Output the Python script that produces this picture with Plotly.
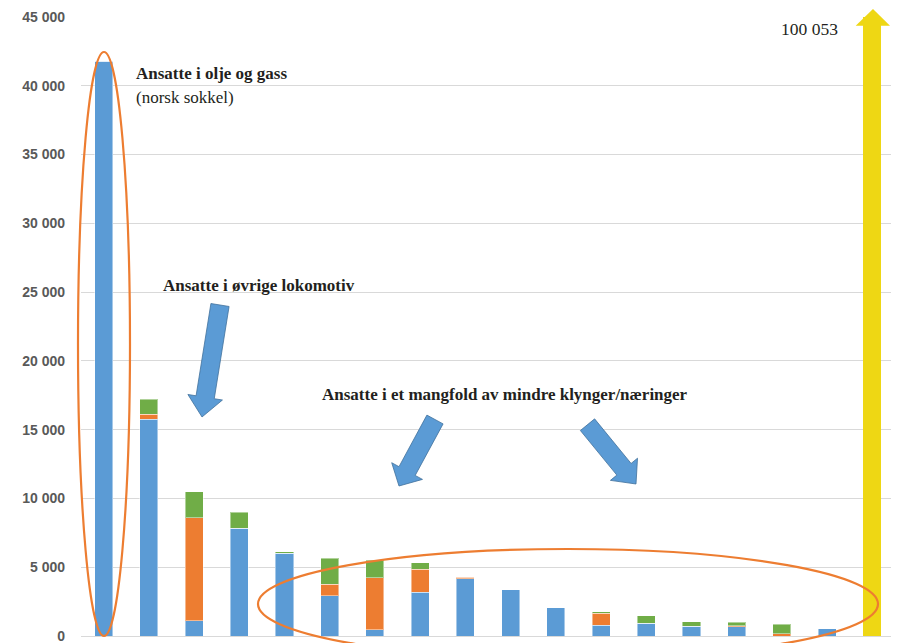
import plotly.graph_objects as go

# ---- data ----
categories = [str(i) for i in range(1, 19)]
blue   = [41800, 15750, 1100, 7850, 6030, 2930, 440, 3180, 4170, 3370, 2040, 775, 920, 700, 680, 0, 510, None]
orange = [0, 370, 7500, 0, 0, 850, 3800, 1670, 90, 0, 0, 875, 0, 0, 70, 150, 0, None]
green  = [0, 1100, 1870, 1150, 80, 1890, 1260, 480, 0, 0, 0, 120, 535, 320, 250, 720, 0, None]
total_value = [None] * 17 + [100053]
total_label = "100 053"
tick_vals = [0, 5000, 10000, 15000, 20000, 25000, 30000, 35000, 40000, 45000]
tick_text = ["0", "5 000", "10 000", "15 000", "20 000", "25 000", "30 000", "35 000", "40 000", "45 000"]

OFF = 8  # default page body margin
W, H = 899 - OFF, 643 - OFF
L, R, T, B = 81, 895, 17, 636  # plot area in page pixels


def px(x, y):
    return (x - L) / (R - L), (B - y) / (B - T)


def arrow_path(tail, tip, w, hw, hl):
    import math
    dx, dy = tip[0] - tail[0], tip[1] - tail[1]
    ln = math.hypot(dx, dy)
    ux, uy = dx / ln, dy / ln
    nx, ny = -uy, ux
    bx, by = tip[0] - ux * hl, tip[1] - uy * hl
    pts = [
        (tail[0] + nx * w, tail[1] + ny * w),
        (bx + nx * w, by + ny * w),
        (bx + nx * hw, by + ny * hw),
        tip,
        (bx - nx * hw, by - ny * hw),
        (bx - nx * w, by - ny * w),
        (tail[0] - nx * w, tail[1] - ny * w),
    ]
    pp = [px(*p) for p in pts]
    return "M " + " L ".join(f"{a:.5f},{b:.5f}" for a, b in pp) + " Z"


edge = dict(color="rgba(255,255,255,0.45)", width=1)
fig = go.Figure()
fig.add_bar(x=categories, y=blue, marker=dict(color="#5B9BD5", line=edge), name="blå")
fig.add_bar(x=categories, y=orange, marker=dict(color="#ED7D31", line=edge), name="oransje")
fig.add_bar(x=categories, y=green, marker=dict(color="#70AD47", line=edge), name="grønn")
fig.add_bar(x=categories, y=total_value, marker=dict(color="#EED714", line=dict(width=0)), name="total")

shapes = []
# yellow arrowhead
p1, p2, p3 = px(855.7, 25.7), px(873, 9), px(890, 25.7)
shapes.append(dict(type="path", xref="paper", yref="paper",
                   path=f"M {p1[0]},{p1[1]} L {p2[0]},{p2[1]} L {p3[0]},{p3[1]} Z",
                   fillcolor="#EED714", line=dict(width=0), layer="above"))
# ellipses
e1a, e1b = px(78, 52), px(130, 636)
shapes.append(dict(type="circle", xref="paper", yref="paper", x0=e1a[0], x1=e1b[0], y0=e1b[1], y1=e1a[1],
                   line=dict(color="#ED7D31", width=2.2), layer="above"))
e2a, e2b = px(258, 549), px(878, 659)
shapes.append(dict(type="circle", xref="paper", yref="paper", x0=e2a[0], x1=e2b[0], y0=e2b[1], y1=e2a[1],
                   line=dict(color="#ED7D31", width=2.2), layer="above"))
# blue block arrows
for tail, tip, hl in [((220, 305), (202, 417), 20), ((435, 419.5), (399, 486), 17), ((587.5, 424.7), (636, 484), 19)]:
    shapes.append(dict(type="path", xref="paper", yref="paper", path=arrow_path(tail, tip, 9.2, 17.5, hl),
                       fillcolor="#5B9BD5", line=dict(color="#41719C", width=0.8), layer="above"))

serif = "Liberation Serif"
txt = "#231F20"
annotations = []


def ann(text, x, y, size, bold=False, xanchor="left"):
    ax, ay = px(x, y)
    annotations.append(dict(text=f"<b>{text}</b>" if bold else text, x=ax, y=ay, xref="paper", yref="paper",
                            xanchor=xanchor, yanchor="middle", showarrow=False,
                            font=dict(family=serif, size=size, color=txt)))


ann("Ansatte i olje og gass", 134, 74, 17, bold=True)
ann("(norsk sokkel)", 134, 98, 17)
ann("Ansatte i øvrige lokomotiv", 161, 285, 17, bold=True)
ann("Ansatte i et mangfold av mindre klynger/næringer", 320, 394, 17, bold=True)
ann(total_label, 809, 29, 17.5, xanchor="center")

fig.update_layout(
    width=W, height=H,
    margin=dict(l=L - OFF, r=899 - R, t=T - OFF, b=643 - B, pad=0, autoexpand=False),
    barmode="stack", bargap=0.6,
    showlegend=False,
    plot_bgcolor="white", paper_bgcolor="white",
    shapes=shapes, annotations=annotations,
    xaxis=dict(showticklabels=False, showgrid=False, zeroline=False, showline=True,
               linecolor="#D9D9D9", linewidth=1, ticks="", automargin=False),
    yaxis=dict(range=[0, 45000], tickvals=tick_vals, ticktext=tick_text, showgrid=True,
               gridcolor="#D9D9D9", gridwidth=1, zeroline=False, showline=False,
               ticklabelstandoff=15, automargin=False, ticklabeloverflow="allow",
               tickfont=dict(family="Liberation Sans", size=14, color="#595959", weight="bold")),
)

fig.write_html("out.html")
